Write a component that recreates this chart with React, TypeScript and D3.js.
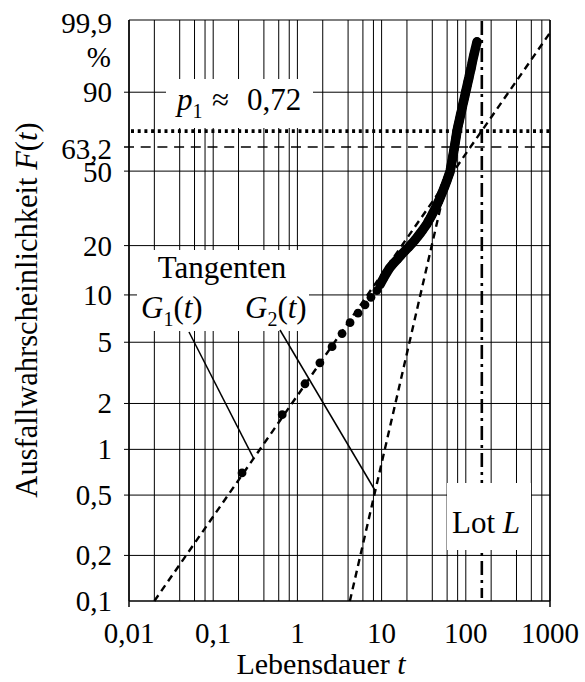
import React from "react";
import * as d3 from "d3";

// ---- data ----
// failure times t (Lebensdauer) of the 100 ordered samples
const sampleT = [
  0.22, 0.66, 1.23, 1.85, 2.58, 3.39, 4.22, 5.25, 6.35, 7.48,
  8.8, 9.6, 10.5, 11.4, 12.4, 13.8, 15.5, 17.1, 19.0, 21.0,
  23.0, 25.0, 26.9, 28.8, 30.7, 32.5, 34.4, 35.9, 37.5, 39.0,
  40.5, 42.0, 43.5, 45.0, 46.3, 47.6, 48.9, 50.2, 51.4, 52.7,
  54.0, 55.2, 56.5, 57.7, 58.9, 60.1, 61.2, 62.4, 63.6, 64.8,
  65.5, 66.1, 66.7, 67.3, 68.0, 68.6, 69.2, 69.8, 70.4, 71.0,
  71.6, 72.2, 72.9, 73.5, 74.0, 74.6, 75.2, 75.8, 76.4, 77.0,
  77.6, 78.2, 78.9, 79.8, 80.6, 81.5, 82.5, 83.5, 84.5, 85.5,
  86.5, 87.7, 88.9, 90.0, 91.2, 92.4, 93.9, 95.4, 97.0, 98.5,
  100.0, 102.1, 104.1, 106.2, 108.9, 111.6, 115.3, 119.1, 125, 136,
];
// failure probability F (%) of the samples
const sampleF = [
  0.70, 1.69, 2.69, 3.68, 4.68, 5.68, 6.67, 7.67, 8.67, 9.66,
  10.66, 11.65, 12.65, 13.65, 14.64, 15.64, 16.63, 17.63, 18.63, 19.62,
  20.62, 21.61, 22.61, 23.61, 24.60, 25.60, 26.59, 27.59, 28.59, 29.58,
  30.58, 31.57, 32.57, 33.57, 34.56, 35.56, 36.55, 37.55, 38.55, 39.54,
  40.54, 41.53, 42.53, 43.53, 44.52, 45.52, 46.51, 47.51, 48.51, 49.50,
  50.50, 51.49, 52.49, 53.49, 54.48, 55.48, 56.47, 57.47, 58.47, 59.46,
  60.46, 61.45, 62.45, 63.45, 64.44, 65.44, 66.43, 67.43, 68.43, 69.42,
  70.42, 71.41, 72.41, 73.41, 74.40, 75.40, 76.39, 77.39, 78.39, 79.38,
  80.38, 81.37, 82.37, 83.37, 84.36, 85.36, 86.35, 87.35, 88.35, 89.34,
  90.34, 91.33, 92.33, 93.33, 94.32, 95.32, 96.31, 97.31, 98.31, 99.30,
];

// tangent lines (end points: t, F%)
const tangentG1 = [
  { t: 0.02, F: 0.1 },
  { t: 1000, F: 99.66 },
];
const tangentG2 = [
  { t: 4.2, F: 0.1 },
  { t: 55.5, F: 40 },
];
// pointer targets on the tangents (t, F%)
const pointerG1 = { t: 0.30, F: 0.88 };
const pointerG2 = { t: 8.44, F: 0.532 };

const lotT = 155; // Lot L
const p1F = 72; // p1 ~ 0,72
const etaF = 63.2;

const xTicks = [0.01, 0.1, 1, 10, 100, 1000];
const xTickLabels = ["0,01", "0,1", "1", "10", "100", "1000"];
const xGridDecades = [0.01, 0.1, 1, 10, 100];
const xGridMult = [1, 2, 4, 6, 8];

const yTicks = [0.1, 0.2, 0.5, 1, 2, 5, 10, 20, 50, 63.2, 90, 99.9];
const yTickLabels = ["0,1", "0,2", "0,5", "1", "2", "5", "10", "20", "50", "63,2", "90", "99,9"];
const yGrid = [0.2, 0.5, 1, 2, 5, 10, 20, 50, 90];

// ---- layout ----
const W = 585;
const H = 682;
const L = 129;
const R = 550;
const T = 20;
const B = 601;
const FONT = '"Liberation Serif"';
const FS = 29; // tick labels
const FS2 = 31; // titles, annotations

const wb = (p: number) => Math.log(-Math.log(1 - p / 100));
const x = d3.scaleLog().domain([0.01, 1000]).range([L, R]);
const yLin = d3.scaleLinear().domain([wb(0.1), wb(99.9)]).range([B, T]);
const y = (p: number) => yLin(wb(p));

const lineGen = d3
  .line<{ t: number; F: number }>()
  .x((d) => x(d.t))
  .y((d) => y(d.F));

const txt: React.CSSProperties = { fontFamily: FONT };

export default function App() {
  const gridX: number[] = [];
  xGridDecades.forEach((d) => xGridMult.forEach((m) => gridX.push(d * m)));
  gridX.push(1000);

  const labelDy: Record<string, number> = { "99,9": 13, "63,2": 12, "50": 11 };

  const samples = sampleT.map((t, i) => ({ t, F: sampleF[i] }));
  const bandPath = lineGen(samples.slice(11)) || "";

  return (
    <svg
      width={W}
      height={H}
      style={{ position: "absolute", left: 0, top: 0, background: "#fff" }}
    >
      <rect x={0} y={0} width={W} height={H} fill="#fff" />
      {/* vertical grid */}
      {gridX.map((v, i) => (
        <line
          key={"gx" + i}
          x1={x(v)}
          x2={x(v)}
          y1={T}
          y2={B}
          stroke="#000"
          strokeWidth={1}
        />
      ))}
      {/* horizontal grid */}
      {yGrid.map((v, i) => (
        <line
          key={"gy" + i}
          x1={L - 5}
          x2={R}
          y1={y(v)}
          y2={y(v)}
          stroke="#000"
          strokeWidth={1}
        />
      ))}
      {/* frame */}
      <line x1={L} x2={R} y1={T} y2={T} stroke="#000" strokeWidth={1.2} />
      <line x1={L} x2={R} y1={B} y2={B} stroke="#000" strokeWidth={1.5} />
      <line x1={L} x2={L} y1={T} y2={B + 6} stroke="#000" strokeWidth={1.5} />
      <line x1={R} x2={R} y1={T} y2={B + 6} stroke="#000" strokeWidth={1.5} />

      {/* Lot L */}
      <line
        x1={x(lotT)}
        x2={x(lotT)}
        y1={T + 1}
        y2={B - 3}
        stroke="#000"
        strokeWidth={2.6}
        strokeDasharray="14,5,3,5"
      />

      {/* white label boxes */}
      <rect x={166} y={79} width={147} height={49} fill="#fff" />
      <rect x={137} y={250} width={172} height={81} fill="#fff" />
      <rect x={447} y={483} width={84} height={67} fill="#fff" />

      {/* 63,2 dashed line */}
      <line
        x1={L - 5}
        x2={R}
        y1={y(etaF)}
        y2={y(etaF)}
        stroke="#000"
        strokeWidth={1.6}
        strokeDasharray="10,6.7"
      />
      {/* p1 dotted line */}
      <line
        x1={L + 2}
        x2={R}
        y1={y(p1F)}
        y2={y(p1F)}
        stroke="#000"
        strokeWidth={3.6}
        strokeDasharray="3,3.7"
      />

      {/* tangents */}
      <path
        d={lineGen(tangentG1) || ""}
        fill="none"
        stroke="#000"
        strokeWidth={2.4}
        strokeDasharray="7,5"
      />
      <path
        d={lineGen(tangentG2) || ""}
        fill="none"
        stroke="#000"
        strokeWidth={2.4}
        strokeDasharray="7,5"
      />

      {/* pointers */}
      <line x1={189} y1={332} x2={x(pointerG1.t)} y2={y(pointerG1.F)} stroke="#000" strokeWidth={1.5} />
      <line x1={280} y1={330} x2={x(pointerG2.t)} y2={y(pointerG2.F)} stroke="#000" strokeWidth={1.5} />

      {/* samples: dense part forms a thick band */}
      <path
        d={bandPath}
        fill="none"
        stroke="#000"
        strokeWidth={9.5}
        strokeLinecap="round"
        strokeLinejoin="round"
      />
      {samples.map((d, i) => (
        <circle key={"s" + i} cx={x(d.t)} cy={y(d.F)} r={4.4} fill="#000" />
      ))}

      {/* y tick labels */}
      {yTicks.map((v, i) => (
        <text
          key={"yl" + i}
          x={112}
          y={y(v) + (labelDy[yTickLabels[i]] ?? 10)}
          fontSize={FS}
          textAnchor="end"
          style={txt}
        >
          {yTickLabels[i]}
        </text>
      ))}
      <text x={111} y={67} fontSize={FS} textAnchor="end" style={txt}>
        %
      </text>

      {/* x tick labels */}
      {xTicks.map((v, i) => (
        <text key={"xl" + i} x={x(v)} y={643} fontSize={FS} textAnchor="middle" style={txt}>
          {xTickLabels[i]}
        </text>
      ))}

      {/* axis titles */}
      <text x={321} y={674} fontSize={30} textAnchor="middle" style={txt}>
        Lebensdauer <tspan fontStyle="italic">t</tspan>
      </text>
      <text
        transform="translate(37,310) rotate(-90)"
        fontSize={30.5}
        textAnchor="middle"
        style={txt}
      >
        Ausfallwahrscheinlichkeit <tspan fontStyle="italic">F</tspan>(
        <tspan fontStyle="italic">t</tspan>)
      </text>

      {/* annotations */}
      <text y={110} fontSize={FS2} style={txt}>
        <tspan x={177} fontStyle="italic">p</tspan>
        <tspan fontSize={20} dy={8}>1</tspan>
        <tspan x={212} dy={-8}>≈</tspan>
        <tspan x={247}>0,72</tspan>
      </text>
      <text x={222} y={278} fontSize={FS2} textAnchor="middle" style={txt}>
        Tangenten
      </text>
      <text y={318} fontSize={FS2} style={txt}>
        <tspan x={141} fontStyle="italic">G</tspan>
        <tspan fontSize={20} dy={8}>1</tspan>
        <tspan dy={-8}>(</tspan>
        <tspan fontStyle="italic">t</tspan>
        <tspan>)</tspan>
      </text>
      <text y={318} fontSize={FS2} style={txt}>
        <tspan x={245} fontStyle="italic">G</tspan>
        <tspan fontSize={20} dy={8}>2</tspan>
        <tspan dy={-8}>(</tspan>
        <tspan fontStyle="italic">t</tspan>
        <tspan>)</tspan>
      </text>
      <text x={452} y={533} fontSize={FS2} style={txt}>
        Lot <tspan fontStyle="italic">L</tspan>
      </text>
    </svg>
  );
}
